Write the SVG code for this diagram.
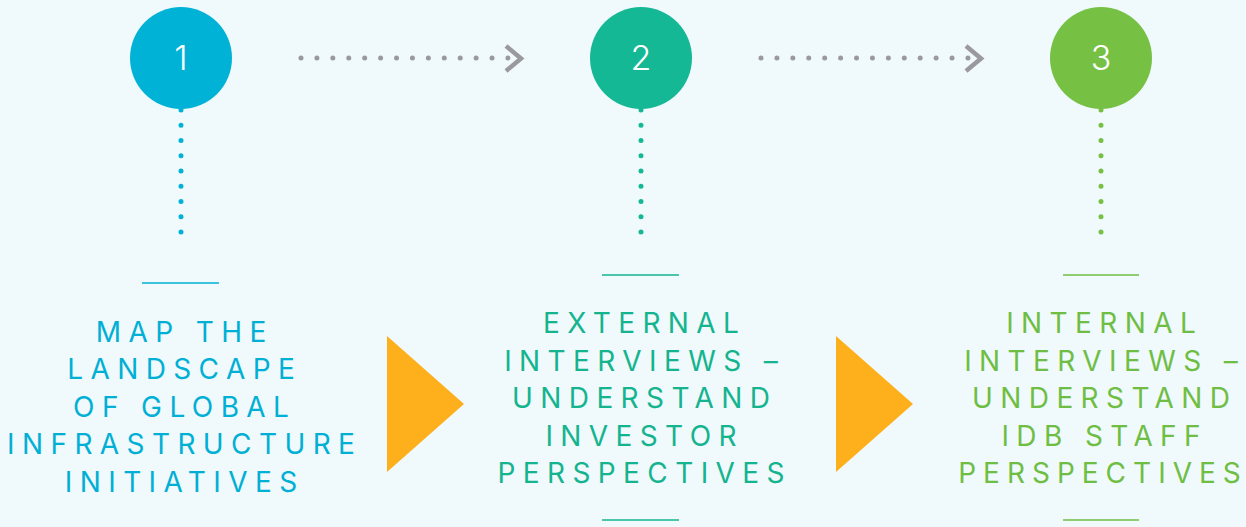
<svg xmlns="http://www.w3.org/2000/svg" width="1246" height="527" viewBox="0 0 1246 527">
<style>
.num{font-family:Inter,"Liberation Sans",sans-serif;font-size:34px;font-weight:300;fill:#ffffff;text-anchor:middle}
.lbl{font-family:Inter,Roboto,"Liberation Sans",sans-serif;font-size:28px;letter-spacing:7.4px;text-anchor:middle}
.c1{fill:#00b2d6}.c2{fill:#14b894}.c3{fill:#76c043}
.t1{fill:#00b0d4}.t2{fill:#14b48f}.t3{fill:#6fbe44}
.vdots{fill:none;stroke-width:5;stroke-linecap:round;stroke-dasharray:0 15.25}
.hdots{fill:none;stroke:#9a999e;stroke-width:5;stroke-linecap:round;stroke-dasharray:0 15.92}
.chev{fill:none;stroke:#9a999e;stroke-width:4.5}
.bar{stroke-width:1.6}
.tri{fill:#fdb01c}
</style>
<rect width="1246" height="527" fill="#f0f9fc"/>
<g id="connectors">
<line class="vdots" x1="181" y1="110" x2="181" y2="232.5" stroke="#00b2d6"/>
<line class="vdots" x1="641" y1="110" x2="641" y2="232.5" stroke="#14b894"/>
<line class="vdots" x1="1101" y1="110" x2="1101" y2="232.5" stroke="#76c043"/>
<line class="hdots" x1="301" y1="58" x2="508.5" y2="58"/>
<polyline class="chev" points="506,46 521,58.5 506,71"/>
<line class="hdots" x1="761" y1="58" x2="968.5" y2="58"/>
<polyline class="chev" points="966,46 981,58.5 966,71"/>
<polygon class="tri" points="387,336 464,404 387,472"/>
<polygon class="tri" points="836,336 913,404 836,472"/>
</g>
<g id="node1">
<circle class="c1" cx="181" cy="58" r="51"/>
<text class="num" x="181" y="70">1</text>
<line class="bar" x1="142" y1="283" x2="219" y2="283" stroke="#00b0d4"/>
<text class="lbl t1"><tspan x="184.7" y="342">MAP THE</tspan><tspan x="184.7" y="379">LANDSCAPE</tspan><tspan x="184.7" y="417">OF GLOBAL</tspan><tspan x="184.7" y="454">INFRASTRUCTURE</tspan><tspan x="184.7" y="492">INITIATIVES</tspan></text>
</g>
<g id="node2">
<circle class="c2" cx="641" cy="58" r="51"/>
<text class="num" x="641" y="70">2</text>
<line class="bar" x1="602" y1="275" x2="679" y2="275" stroke="#14b48f"/>
<text class="lbl t2"><tspan x="644.7" y="333">EXTERNAL</tspan><tspan x="644.7" y="371">INTERVIEWS –</tspan><tspan x="644.7" y="408">UNDERSTAND</tspan><tspan x="644.7" y="446">INVESTOR</tspan><tspan x="644.7" y="483">PERSPECTIVES</tspan></text>
<line class="bar" x1="602" y1="520" x2="679" y2="520" stroke="#14b48f"/>
</g>
<g id="node3">
<circle class="c3" cx="1101" cy="58" r="51"/>
<text class="num" x="1101" y="70">3</text>
<line class="bar" x1="1063" y1="275" x2="1139" y2="275" stroke="#6fbe44"/>
<text class="lbl t3"><tspan x="1104.7" y="333">INTERNAL</tspan><tspan x="1104.7" y="371">INTERVIEWS –</tspan><tspan x="1104.7" y="408">UNDERSTAND</tspan><tspan x="1104.7" y="446">IDB STAFF</tspan><tspan x="1103" y="483" style="letter-spacing:7px">PERSPECTIVES</tspan></text>
<line class="bar" x1="1063" y1="520" x2="1139" y2="520" stroke="#6fbe44"/>
</g>
</svg>
